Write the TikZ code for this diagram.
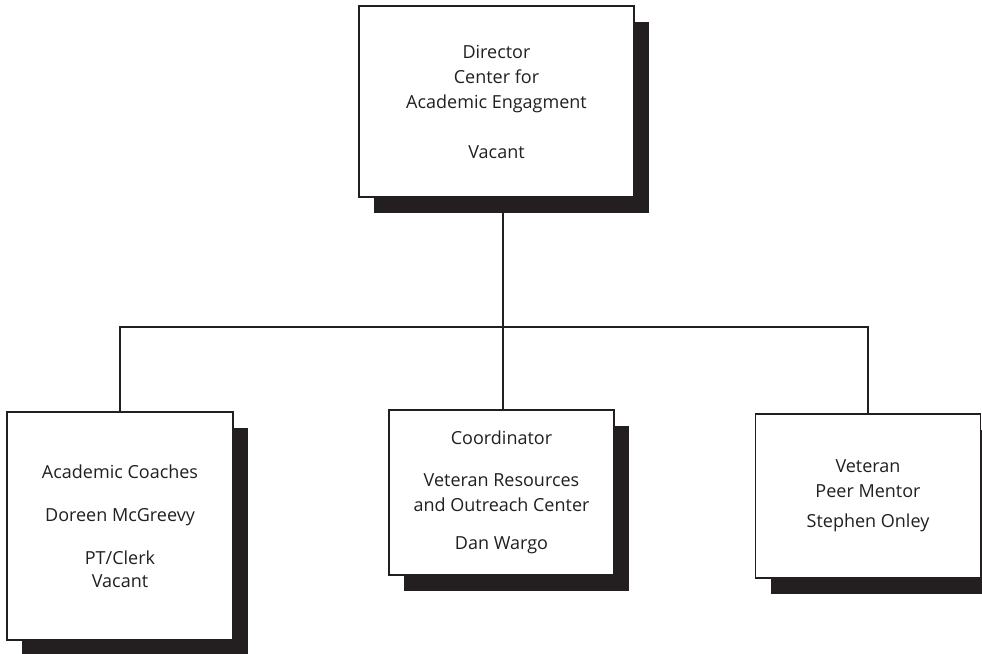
\documentclass[tikz,border=0pt]{standalone}
\usepackage{fontspec}
\setmainfont{Open Sans}
\usetikzlibrary{shadows}
\definecolor{inkgray}{HTML}{231F20}
\begin{document}
\begin{tikzpicture}[x=1pt, y=-1pt,
  every node/.style={font=\fontsize{18}{25}\selectfont, text=inkgray},
  unit/.style={draw=inkgray, line width=1.3pt, fill=white, align=center, inner sep=0pt,
    drop shadow={shadow xshift=15pt, shadow yshift=-16pt, fill=inkgray, opacity=1}},
  link/.style={draw=inkgray, line width=1.6pt}]
  \useasboundingbox (0,0) rectangle (982,653);
  \node[unit, minimum width=275pt, minimum height=191pt] (dir) at (496.5,101.5)
    {Director\\Center for\\Academic Engagment\\[25pt]Vacant};
  \node[unit, minimum width=226pt, minimum height=228pt] (coach) at (120,526)
    {Academic Coaches\\[18pt]Doreen McGreevy\\[18pt]PT/Clerk\\[-2pt]Vacant};
  \node[unit, minimum width=225pt, minimum height=165pt] (vroc) at (501.5,492.5)
    {Coordinator\\[17pt]Veteran Resources\\and Outreach Center\\[13pt]Dan Wargo};
  \node[unit, minimum width=225pt, minimum height=164pt] (peer) at (868,496)
    {Veteran\\Peer Mentor\\[5pt]Stephen Onley};
  \coordinate (hub) at (503,327);
  \draw[link] (dir.south -| hub) -- (vroc.north -| hub);
  \draw[link] (coach.north) |- (hub) -| (peer.north);
\end{tikzpicture}
\end{document}
